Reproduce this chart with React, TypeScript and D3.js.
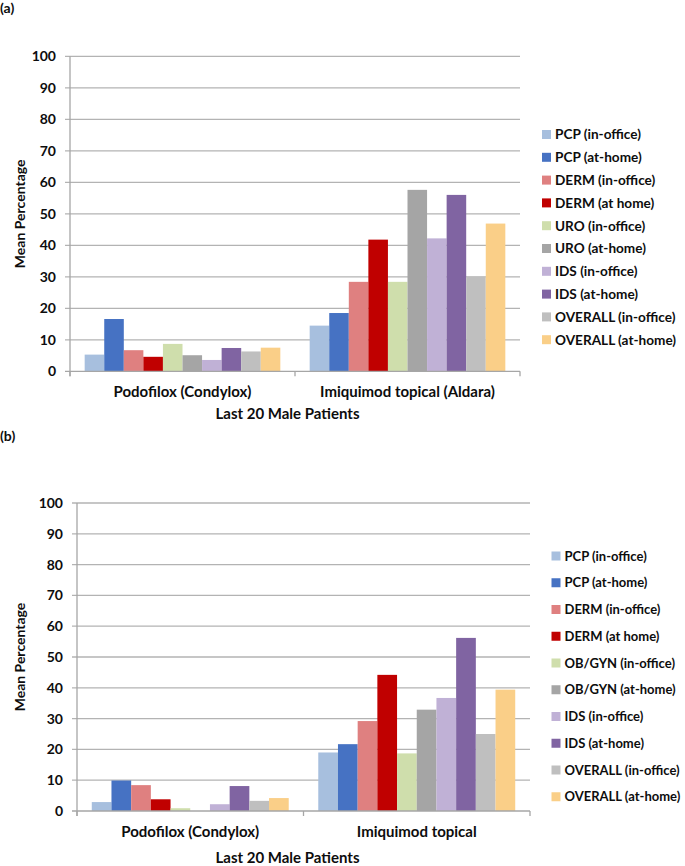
import React from "react";
import * as d3 from "d3";

const FONT = "Lato, 'Open Sans', sans-serif";

const categoriesA = ["Podofilox (Condylox)", "Imiquimod topical (Aldara)"];
const categoriesB = ["Podofilox (Condylox)", "Imiquimod topical"];

const seriesA = [
  "PCP (in-office)", "PCP (at-home)", "DERM (in-office)", "DERM (at home)",
  "URO (in-office)", "URO (at-home)", "IDS (in-office)", "IDS (at-home)",
  "OVERALL (in-office)", "OVERALL (at-home)",
];
const seriesB = [
  "PCP (in-office)", "PCP (at-home)", "DERM (in-office)", "DERM (at home)",
  "OB/GYN (in-office)", "OB/GYN (at-home)", "IDS (in-office)", "IDS (at-home)",
  "OVERALL (in-office)", "OVERALL (at-home)",
];

const colors = [
  "#a7bfde", "#4672c3", "#df8080", "#c00000", "#cfdeac",
  "#a5a5a5", "#c0b1d6", "#8064a2", "#bfbfbf", "#facf88",
];

const podofiloxA = [5.3, 16.6, 6.7, 4.6, 8.7, 5.1, 3.6, 7.4, 6.3, 7.5];
const imiquimodA = [14.5, 18.5, 28.4, 41.8, 28.4, 57.6, 42.2, 56.0, 30.0, 46.9];
const podofiloxB = [2.9, 9.9, 8.4, 3.8, 0.9, null, 2.2, 8.1, 3.3, 4.2];
const imiquimodB = [19.0, 21.7, 29.2, 44.2, 18.7, 32.9, 36.7, 56.2, 25.0, 39.4];

const yTicks = [0, 10, 20, 30, 40, 50, 60, 70, 80, 90, 100];

type ChartProps = {
  label: string;
  labelY: number;
  left: number;
  right: number;
  yTop: number;
  yBottom: number;
  categories: string[];
  series: string[];
  values: (number | null)[][];
  legendX: number;
  legendY: number;
  legendStep: number;
  legendFont: number;
  catLabelY: number;
  axisTitleY: number;
};

function Chart(p: ChartProps) {
  const y = d3.scaleLinear().domain([0, 100]).range([p.yBottom, p.yTop]);
  const x0 = d3.scaleBand<string>().domain(p.categories).range([p.left, p.right]).padding(0);
  const x1 = d3
    .scaleBand<string>()
    .domain(p.series)
    .range([0, x0.bandwidth()])
    .paddingInner(0)
    .paddingOuter(0.75);
  const grid = "#b3b3b3";
  const axisC = "#a6a6a6";
  const txt = "#0d0d0d";
  return (
    <g>
      <text x={0} y={p.labelY} fontFamily={FONT} fontWeight="bold" fontSize={14} fill={txt}>
        {p.label}
      </text>
      {yTicks.map((t) => (
        <g key={t}>
          {t > 0 && (
            <line x1={p.left - 5} x2={p.right} y1={y(t)} y2={y(t)} stroke={grid} strokeWidth={1.3} />
          )}
          <text
            x={p.left - 14}
            y={y(t)}
            dy="0.36em"
            textAnchor="end"
            fontFamily={FONT}
            fontWeight="bold"
            fontSize={14}
            fill={txt}
          >
            {t}
          </text>
        </g>
      ))}
      {p.categories.map((c, ci) => (
        <g key={c}>
          {p.series.map((s, si) => {
            const v = p.values[ci][si];
            if (v == null) return null;
            return (
              <rect
                key={s}
                x={(x0(c) as number) + (x1(s) as number)}
                y={y(v)}
                width={x1.bandwidth()}
                height={y(0) - y(v)}
                fill={colors[si]}
              />
            );
          })}
          <text
            x={(x0(c) as number) + x0.bandwidth() / 2}
            y={p.catLabelY}
            dy="0.36em"
            textAnchor="middle"
            fontFamily={FONT}
            fontWeight="bold"
            fontSize={15}
            fill={txt}
          >
            {c}
          </text>
        </g>
      ))}
      <line x1={p.left} x2={p.left} y1={p.yTop} y2={p.yBottom + 5} stroke={axisC} strokeWidth={1.3} />
      <line x1={p.left - 5} x2={p.right} y1={p.yBottom} y2={p.yBottom} stroke={axisC} strokeWidth={1.3} />
      {[...p.categories.map((c) => x0(c) as number), p.right].map((xv, i) => (
        <line key={i} x1={xv} x2={xv} y1={p.yBottom} y2={p.yBottom + 5} stroke={axisC} strokeWidth={1.3} />
      ))}
      <text
        transform={`translate(20,${(p.yTop + p.yBottom) / 2}) rotate(-90)`}
        dy="0.36em"
        textAnchor="middle"
        fontFamily={FONT}
        fontWeight="bold"
        fontSize={14}
        fill={txt}
      >
        Mean Percentage
      </text>
      <text
        x={287.5}
        y={p.axisTitleY}
        dy="0.36em"
        textAnchor="middle"
        fontFamily={FONT}
        fontWeight="bold"
        fontSize={15}
        fill={txt}
      >
        Last 20 Male Patients
      </text>
      {p.series.map((s, i) => (
        <g key={s} transform={`translate(${p.legendX},${p.legendY + i * p.legendStep})`}>
          <rect x={0} y={-4.5} width={9} height={9} fill={colors[i]} />
          <text x={13} y={0} dy="0.36em" fontFamily={FONT} fontWeight="bold" fontSize={p.legendFont} fill={txt}>
            {s}
          </text>
        </g>
      ))}
    </g>
  );
}

function pair(a: (number | null)[], b: (number | null)[]) {
  return [a, b];
}

export default function App() {
  return (
    <svg
      width={685}
      height={866}
      style={{ position: "absolute", left: 0, top: 0, background: "#fff" }}
    >
      <Chart
        label="(a)"
        labelY={13}
        left={70}
        right={520}
        yTop={56.3}
        yBottom={371.3}
        categories={categoriesA}
        series={seriesA}
        values={pair(podofiloxA, imiquimodA)}
        legendX={542}
        legendY={134.5}
        legendStep={22.8}
        legendFont={13.6}
        catLabelY={392}
        axisTitleY={414}
      />
      <Chart
        label="(b)"
        labelY={441}
        left={77}
        right={530}
        yTop={503}
        yBottom={811}
        categories={categoriesB}
        series={seriesB}
        values={pair(podofiloxB, imiquimodB)}
        legendX={551.5}
        legendY={556}
        legendStep={26.75}
        legendFont={13}
        catLabelY={832}
        axisTitleY={858}
      />
    </svg>
  );
}
